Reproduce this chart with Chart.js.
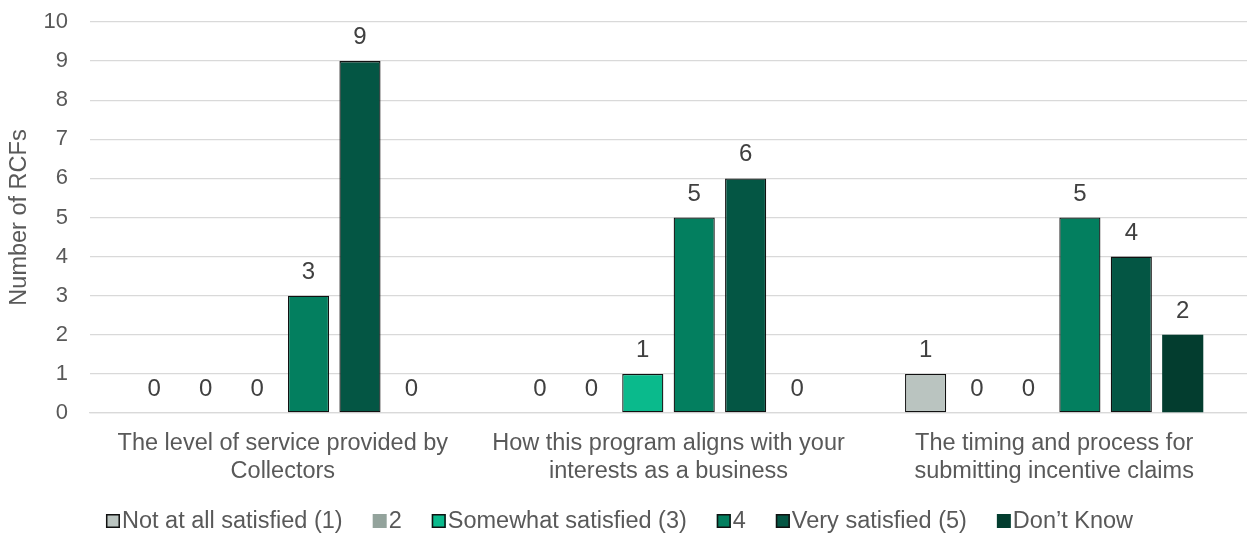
<!DOCTYPE html>
<html>
<head>
<meta charset="utf-8">
<title>RCF satisfaction</title>
<script src="https://cdn.jsdelivr.net/npm/chart.js@4.4.1/dist/chart.umd.min.js"></script>
<style>
  html, body { margin: 0; padding: 0; background: #ffffff; }
  #wrap { width: 1247px; height: 534px; }
</style>
</head>
<body>
<div id="wrap"><canvas id="chart" width="1247" height="534"></canvas></div>
<script>
// Survey question topics (x-axis categories, wrapped into two lines)
const categories = [
  ['The level of service provided by', 'Collectors'],
  ['How this program aligns with your', 'interests as a business'],
  ['The timing and process for', 'submitting incentive claims']
];

// Number of RCFs giving each rating
const notAtAllSatisfied = [0, 0, 1];
const ratingTwo = [0, 0, 0];
const somewhatSatisfied = [0, 1, 0];
const ratingFour = [3, 5, 5];
const verySatisfied = [9, 6, 4];
const dontKnow = [0, 0, 2];

const yTicks = [0, 1, 2, 3, 4, 5, 6, 7, 8, 9, 10];

const FONT = '"Liberation Sans", Arial, sans-serif';
const TEXT_GREY = '#595959';
const LABEL_GREY = '#404040';
const GRID = '#D9D9D9';

// Value labels above each bar
const valueLabels = {
  id: 'valueLabels',
  afterDatasetsDraw(chart) {
    const ctx = chart.ctx;
    ctx.save();
    ctx.font = '24px ' + FONT;
    ctx.fillStyle = LABEL_GREY;
    ctx.textAlign = 'center';
    ctx.textBaseline = 'alphabetic';
    chart.data.datasets.forEach((ds, i) => {
      const meta = chart.getDatasetMeta(i);
      meta.data.forEach((bar, j) => {
        ctx.fillText(String(ds.data[j]), bar.x, bar.y - 17);
      });
    });
    ctx.restore();
  }
};

// Compact legend row under the axis labels
const bottomLegend = {
  id: 'bottomLegend',
  afterDraw(chart) {
    const ctx = chart.ctx;
    const box = 14, gapText = 2, gapItem = 30;
    ctx.save();
    ctx.font = '23.5px ' + FONT;
    ctx.textBaseline = 'middle';
    const items = chart.data.datasets.map(ds => ({
      ds, w: box + gapText + ctx.measureText(ds.label).width
    }));
    const total = items.reduce((s, it) => s + it.w, 0) + gapItem * (items.length - 1);
    let x = (chart.width - total) / 2 - 4;
    const yc = 521;
    items.forEach(it => {
      const ds = it.ds;
      ctx.fillStyle = ds.backgroundColor;
      ctx.fillRect(x, yc - box / 2, box, box);
      if (ds.borderWidth > 0) {
        ctx.lineWidth = 1.5;
        ctx.strokeStyle = ds.borderColor;
        ctx.strokeRect(x + 0.75, yc - box / 2 + 0.75, box - 1.5, box - 1.5);
      }
      ctx.fillStyle = TEXT_GREY;
      ctx.textAlign = 'left';
      ctx.fillText(ds.label, x + box + gapText, yc + 1);
      x += it.w + gapItem;
    });
    ctx.restore();
  }
};

const barDefaults = { borderColor: '#111111', borderSkipped: false };

new Chart(document.getElementById('chart'), {
  type: 'bar',
  data: {
    labels: categories,
    datasets: [
      { label: 'Not at all satisfied (1)', data: notAtAllSatisfied, backgroundColor: '#BAC4C0', borderWidth: 1.3, ...barDefaults },
      { label: '2', data: ratingTwo, backgroundColor: '#93A39C', borderWidth: 0, ...barDefaults },
      { label: 'Somewhat satisfied (3)', data: somewhatSatisfied, backgroundColor: '#0ABA8C', borderWidth: 1.3, ...barDefaults },
      { label: '4', data: ratingFour, backgroundColor: '#037F5F', borderWidth: 1.3, ...barDefaults },
      { label: 'Very satisfied (5)', data: verySatisfied, backgroundColor: '#045644', borderWidth: 1.3, ...barDefaults },
      { label: 'Don\u2019t Know', data: dontKnow, backgroundColor: '#033D2F', borderWidth: 0, ...barDefaults }
    ]
  },
  options: {
    responsive: false,
    animation: false,
    events: [],
    categoryPercentage: 0.8,
    barPercentage: 0.8,
    layout: { padding: { top: 22, right: 0, left: 0, bottom: 49 } },
    plugins: {
      legend: { display: false },
      tooltip: { enabled: false }
    },
    scales: {
      x: {
        grid: { display: false },
        border: { display: true, color: GRID, width: 1.3 },
        ticks: {
          color: TEXT_GREY,
          font: { family: FONT, size: 23.5, lineHeight: 1.2 },
          padding: 8,
          maxRotation: 0,
          autoSkip: false
        },
        afterFit(s) { s.height = 72; }
      },
      y: {
        min: 0,
        max: 10,
        afterBuildTicks(s) { s.ticks = yTicks.map(v => ({ value: v })); },
        // tick marks are kept only as invisible spacing between labels and plot
        grid: { color: GRID, lineWidth: 1.3, drawTicks: true, tickLength: 20, tickColor: 'rgba(0,0,0,0)' },
        border: { display: false },
        ticks: {
          color: TEXT_GREY,
          font: { family: FONT, size: 22 },
          padding: 2
        },
        title: {
          display: true,
          text: 'Number of RCFs',
          color: TEXT_GREY,
          font: { family: FONT, size: 23.5 },
          padding: { top: 5, bottom: 0 }
        },
        afterFit(s) { s.width = 90; }
      }
    }
  },
  plugins: [valueLabels, bottomLegend]
});
</script>
</body>
</html>
